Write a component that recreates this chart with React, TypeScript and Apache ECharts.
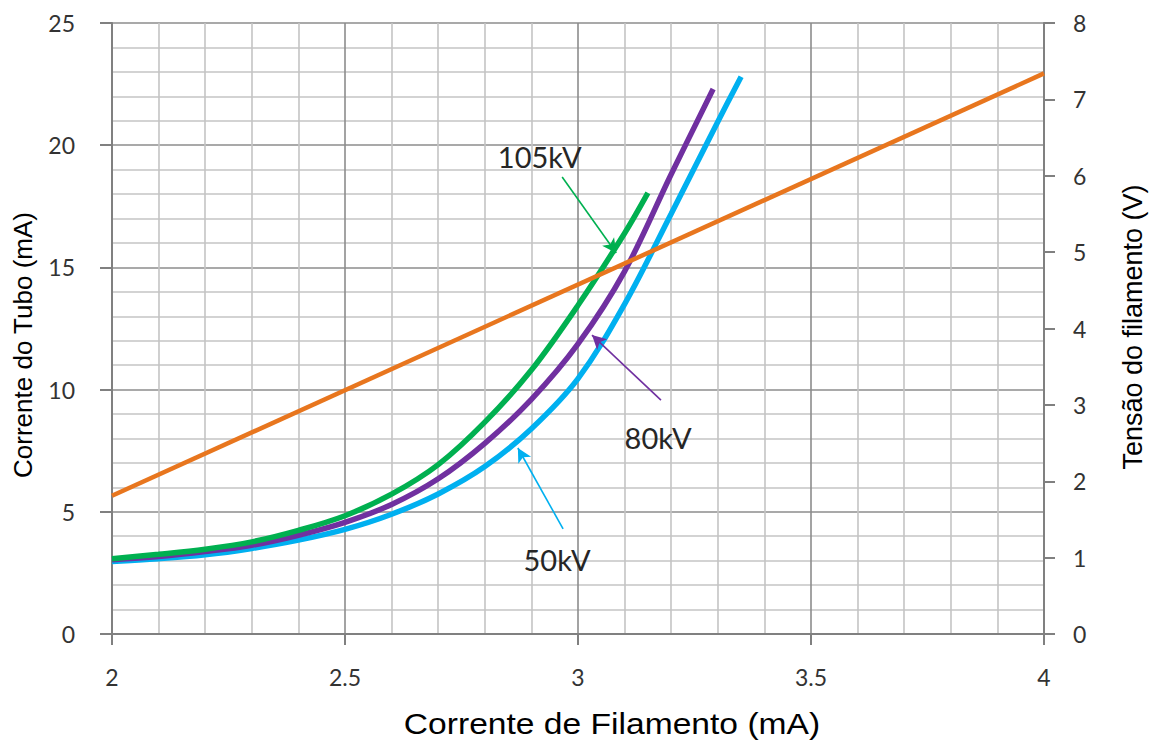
import React, { useEffect, useRef } from "react";
import * as echarts from "echarts";

// Filament current (mA) vs tube current (mA) for three tube voltages,
// plus the filament voltage (V) on the secondary axis.
const kv50: [number, number][] = [
  [2.0, 2.97], [2.1, 3.08], [2.2, 3.24], [2.3, 3.5], [2.4, 3.84], [2.5, 4.28],
  [2.6, 4.9], [2.7, 5.73], [2.8, 6.85], [2.9, 8.4], [3.0, 10.45], [3.1, 13.5],
  [3.2, 17.2], [3.3, 20.96], [3.35, 22.8],
];
const kv80: [number, number][] = [
  [2.0, 3.04], [2.1, 3.17], [2.2, 3.37], [2.3, 3.63], [2.4, 4.04], [2.5, 4.57],
  [2.6, 5.3], [2.7, 6.35], [2.8, 7.8], [2.9, 9.6], [3.0, 11.87], [3.1, 14.84],
  [3.2, 18.81], [3.29, 22.3],
];
const kv105: [number, number][] = [
  [2.0, 3.08], [2.1, 3.26], [2.2, 3.47], [2.3, 3.77], [2.4, 4.24], [2.5, 4.84],
  [2.6, 5.72], [2.7, 6.93], [2.8, 8.67], [2.9, 10.8], [3.0, 13.45], [3.1, 16.4],
  [3.15, 18.05],
];
const filamentVoltage: [number, number][] = [
  [2.0, 1.81], [4.0, 7.34],
];

// Annotation labels and their arrows (data coordinates)
const labels = [
  { text: "105kV", at: [2.918, 19.52], from: [2.966, 18.7], to: [3.082, 15.59], color: "#00B050" },
  { text: "80kV", at: [3.172, 8.06], from: [3.178, 9.57], to: [3.03, 12.23], color: "#7030A0" },
  { text: "50kV", at: [2.955, 3.03], from: [2.968, 4.3], to: [2.871, 7.61], color: "#00B0F0" },
];

const TICK_FONT = "Lato";
const TITLE_FONT = "Liberation Sans";

function annotations(idx: number) {
  const l = labels[idx];
  return {
    markLine: {
      silent: true,
      symbol: ["none", "arrow"],
      symbolSize: [11, 14],
      label: { show: false },
      lineStyle: { color: l.color, width: 1.6, type: "solid" },
      data: [[{ coord: l.from }, { coord: l.to }]],
    },
    markPoint: {
      silent: true,
      symbol: "circle",
      symbolSize: 1,
      itemStyle: { color: "rgba(0,0,0,0)" },
      label: {
        show: true,
        position: "inside",
        formatter: l.text,
        color: "#262626",
        fontFamily: TICK_FONT,
        fontSize: 29,
      },
      data: [{ coord: l.at }],
    },
  };
}

export default function App() {
  const ref = useRef<HTMLDivElement>(null);

  useEffect(() => {
    if (!ref.current) return;
    const chart = echarts.init(ref.current, undefined, { renderer: "svg" });

    const axisLabel = { color: "#333333", fontFamily: TICK_FONT, fontSize: 23 };

    chart.setOption({
      animation: false,
      backgroundColor: "#ffffff",
      grid: { left: 112, right: 107, top: 23, bottom: 110, containLabel: false },
      xAxis: {
        type: "value",
        min: 2,
        max: 4,
        interval: 0.5,
        axisLine: { show: true, lineStyle: { color: "#808080", width: 2 } },
        axisTick: { show: true, length: 11, lineStyle: { color: "#808080", width: 2 } },
        axisLabel: { ...axisLabel, margin: 31 },
        splitLine: { show: true, lineStyle: { color: "#8c8c8c", width: 1.6 } },
        minorTick: { show: false, splitNumber: 5 },
        minorSplitLine: { show: true, lineStyle: { color: "#c4c4c4", width: 1.6 } },
      },
      yAxis: [
        {
          type: "value",
          min: 0,
          max: 25,
          interval: 5,
          axisLine: { show: true, lineStyle: { color: "#808080", width: 2 } },
          axisTick: { show: true, length: 12, lineStyle: { color: "#808080", width: 2 } },
          axisLabel: { ...axisLabel, margin: 37 },
          splitLine: { show: true, lineStyle: { color: "#8c8c8c", width: 1.6 } },
          minorTick: { show: false, splitNumber: 5 },
          minorSplitLine: { show: true, lineStyle: { color: "#c4c4c4", width: 1.6 } },
        },
        {
          type: "value",
          min: 0,
          max: 8,
          interval: 1,
          position: "right",
          axisLine: { show: true, lineStyle: { color: "#808080", width: 2 } },
          axisTick: { show: true, length: 11, lineStyle: { color: "#808080", width: 2 } },
          axisLabel: { ...axisLabel, margin: 29 },
          splitLine: { show: false },
        },
      ],
      graphic: [
        {
          type: "text",
          x: 612,
          y: 724,
          scaleX: 1.12,
          style: {
            text: "Corrente de Filamento (mA)",
            fontFamily: TITLE_FONT,
            fontSize: 30,
            fill: "#000000",
            align: "center",
            verticalAlign: "middle",
          },
        },
        {
          type: "text",
          x: 23,
          y: 345,
          rotation: Math.PI / 2,
          style: {
            text: "Corrente do Tubo (mA)",
            fontFamily: TITLE_FONT,
            fontSize: 26,
            fill: "#000000",
            align: "center",
            verticalAlign: "middle",
          },
        },
        {
          type: "text",
          x: 1133,
          y: 327,
          rotation: Math.PI / 2,
          style: {
            text: "Tensão do filamento (V)",
            fontFamily: TITLE_FONT,
            fontSize: 27,
            fill: "#000000",
            align: "center",
            verticalAlign: "middle",
          },
        },
      ],
      series: [
        {
          name: "50kV",
          type: "line",
          yAxisIndex: 0,
          data: kv50,
          smooth: 0.35,
          symbol: "none",
          lineStyle: { color: "#00B0F0", width: 5.5 },
          ...annotations(2),
        },
        {
          name: "80kV",
          type: "line",
          yAxisIndex: 0,
          data: kv80,
          smooth: 0.35,
          symbol: "none",
          lineStyle: { color: "#7030A0", width: 5.5 },
          ...annotations(1),
        },
        {
          name: "105kV",
          type: "line",
          yAxisIndex: 0,
          data: kv105,
          smooth: 0.35,
          symbol: "none",
          lineStyle: { color: "#00B050", width: 5.5 },
          ...annotations(0),
        },
        {
          name: "Tensão do filamento",
          type: "line",
          yAxisIndex: 1,
          data: filamentVoltage,
          symbol: "none",
          lineStyle: { color: "#E8761E", width: 4.5 },
        },
      ],
    });

    return () => chart.dispose();
  }, []);

  return (
    <div
      ref={ref}
      style={{ position: "absolute", left: 0, top: 0, width: 1151, height: 744, background: "#fff" }}
    />
  );
}
